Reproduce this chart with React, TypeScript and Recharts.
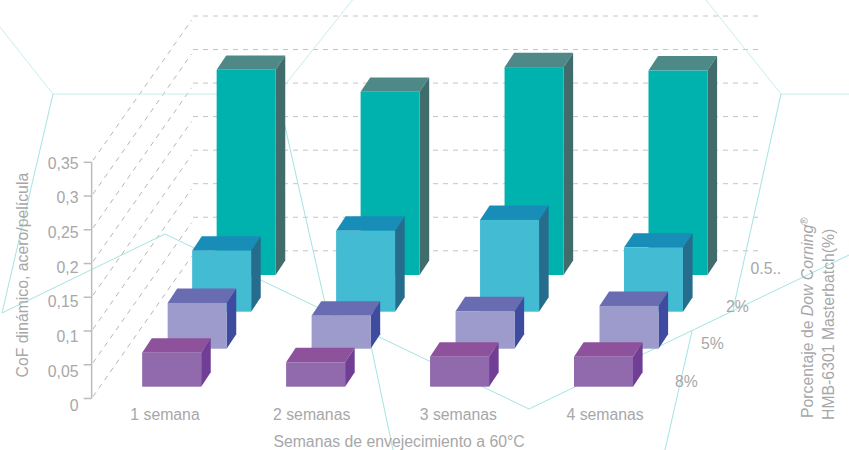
import React from 'react';
import { BarChart, Bar, XAxis, YAxis, CartesianGrid } from 'recharts';

const categories = ['1 semana', '2 semanas', '3 semanas', '4 semanas'];
const serie05 = [0.304, 0.2715, 0.308, 0.303];
const serie2 = [0.0905, 0.12, 0.136, 0.095];
const serie5 = [0.0678, 0.049, 0.0556, 0.0634];
const serie8 = [0.0504, 0.0362, 0.0445, 0.0445];
const yTicks = [0, 0.05, 0.1, 0.15, 0.2, 0.25, 0.3, 0.35];
const yTickLabels = ['0', '0,05', '0,1', '0,15', '0,2', '0,25', '0,3', '0,35'];
const depthLabels = ['0.5..', '2%', '5%', '8%'];

const data = categories.map((c, i) => ({
  c,
  s05: serie05[i],
  s2: serie2[i],
  s5: serie5[i],
  s8: serie8[i],
}));

const TEXT = '#a7a7a9';
const FONT = '"Liberation Sans", Arial, sans-serif';
const FS = 15.8;

const box = (dx: number, dy: number, front: string, top: string, side: string) => (p: any) => {
  const x = p.x + dx;
  const y = p.y + dy;
  const w = p.width;
  const h = p.height;
  const ox = 9.6;
  const oy = 14.4;
  return (
    <g>
      <path d={`M${x},${y}L${x + ox},${y - oy}L${x + w + ox},${y - oy}L${x + w},${y}Z`} fill={top} />
      <path d={`M${x + w},${y}L${x + w + ox},${y - oy}L${x + w + ox},${y + h - oy}L${x + w},${y + h}Z`} fill={side} />
      <rect x={x} y={y} width={w} height={h} fill={front} />
    </g>
  );
};

const gridLine = (p: any) => {
  const y = p.y1;
  const back = 16 + (y - 162.3) * 0.994;
  return (
    <g key={p.key ?? y} fill="none" strokeWidth={1} strokeDasharray="5 5">
      <path d={`M93,${y - 2}L191.5,${y - 142}`} stroke="#b6b6b6" />
      <path d={`M193,${back}L763,${back}`} stroke="#c4c4c4" />
    </g>
  );
};

const yTick = (p: any) => {
  const idx = yTicks.indexOf(p.payload.value);
  const nudge = 1 + (yTicks.length - 1 - idx) * 0.9;
  return (
    <text x={78.5} y={p.y + nudge + 5.5} textAnchor="end" fontSize={FS} fontFamily={FONT} fill={TEXT}>
      {yTickLabels[idx]}
    </text>
  );
};

const CY1 = '#c6eded';
const CY2 = '#a3e3e3';

export default function App() {
  return (
    <div style={{ position: 'absolute', left: 0, top: 0, width: 849, height: 450, fontFamily: FONT }}>
      <BarChart
        width={849}
        height={450}
        data={data}
        margin={{ top: 162.3, right: 170.55, bottom: 0, left: 0 }}
        barSize={59}
        barGap={-59}
      >
        <CartesianGrid xAxisId="labels" vertical={false} horizontal={gridLine} syncWithTicks />
        {/* escena 3D de fondo */}
        <g fill="none" strokeWidth={1}>
          <path d="M0,27L53,94L277.7,94L352.5,0" stroke={CY1} />
          <path d="M706,0L781,94L849,94" stroke={CY1} />
          <path d="M53,94L2,313L165,234L529,409L849,255" stroke={CY2} />
          <path d="M277.7,94L327,312" stroke={CY2} />
          <path d="M368,331.5L393,450" stroke={CY2} />
          <path d="M781,94L733,310" stroke={CY2} />
          <path d="M692,331L665,450" stroke={CY2} />
        </g>
        <XAxis
          xAxisId="labels"
          dataKey="c"
          height={51.5}
          interval={0}
          axisLine={false}
          tickLine={false}
          tickMargin={4}
          tick={{ fontSize: FS, fontFamily: FONT, fill: TEXT }}
          label={{
            value: 'Semanas de envejecimiento a 60°C',
            position: 'insideBottom',
            dx: 14,
            offset: 3,
            fontSize: FS,
            fontFamily: FONT,
            fill: TEXT,
          }}
        />
        <XAxis xAxisId="bars" dataKey="c" hide height={0} padding={{ left: 8.5, right: 2.5 }} />
        <YAxis
          width={91.65}
          domain={[0, 0.35]}
          ticks={yTicks}
          interval={0}
          tickSize={8}
          axisLine={{ stroke: '#bcbcbc', strokeWidth: 1.5 }}
          tickLine={{ stroke: '#bcbcbc', strokeWidth: 1.5 }}
          tick={yTick}
          label={{
            value: 'CoF dinámico, acero/película',
            angle: -90,
            position: 'insideLeft',
            dx: 17,
            dy: 97,
            fontSize: FS,
            fontFamily: FONT,
            fill: TEXT,
          }}
        />
        <Bar xAxisId="bars" dataKey="s05" isAnimationActive={false} shape={box(74.5, -123.5, '#00b2ae', '#4e8987', '#416c6c')} />
        <Bar xAxisId="bars" dataKey="s2" isAnimationActive={false} shape={box(50, -86.8, '#43bbd3', '#188db8', '#266d8d')} />
        <Bar xAxisId="bars" dataKey="s5" isAnimationActive={false} shape={box(25.5, -49.8, '#9c9bcc', '#6a6cb2', '#3f4b9f')} />
        <Bar xAxisId="bars" dataKey="s8" isAnimationActive={false} shape={box(0, -11.8, '#906aad', '#8e529d', '#713e96')} />
        <g fontSize={FS} fontFamily={FONT} fill={TEXT}>
          <text x={750.5} y={273.5}>{depthLabels[0]}</text>
          <text x={726} y={311.5}>{depthLabels[1]}</text>
          <text x={701} y={348.5}>{depthLabels[2]}</text>
          <text x={675} y={386.5}>{depthLabels[3]}</text>
          <text transform="translate(813,418) rotate(-90)">
            Porcentaje de <tspan fontStyle="italic">Dow Corning</tspan>
            <tspan fontSize={10} dy={-5}>®</tspan>
          </text>
          <text transform="translate(834,420) rotate(-90)">HMB-6301 Masterbatch(%)</text>
        </g>
      </BarChart>
    </div>
  );
}
